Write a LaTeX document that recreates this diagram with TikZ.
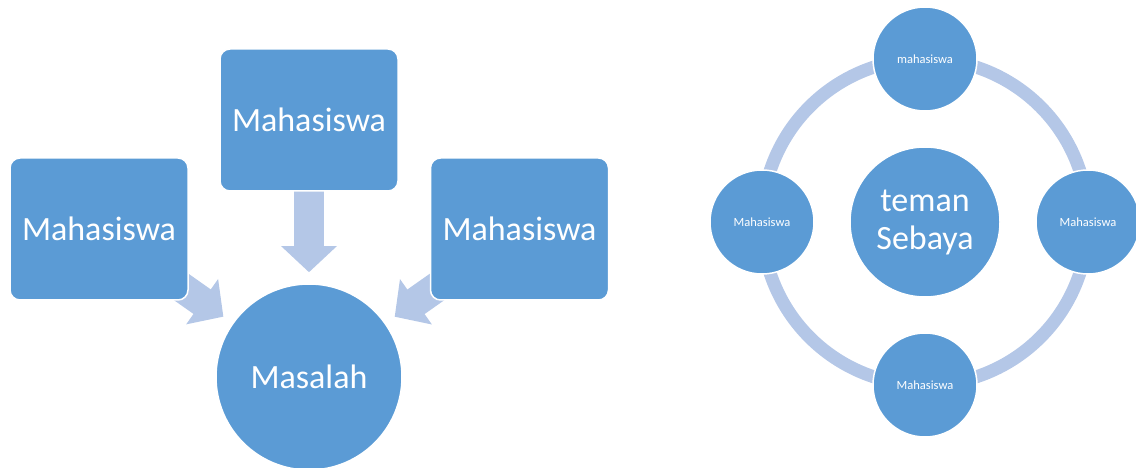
\documentclass[tikz,border=0pt]{standalone}
\usepackage{fontspec}
\setmainfont{Carlito}
\usetikzlibrary{arrows.meta}
\usetikzlibrary{backgrounds}
\definecolor{boxblue}{RGB}{91,155,213}
\definecolor{paleblue}{RGB}{180,199,231}
\tikzset{
    mbox/.style = {rectangle, rounded corners=10pt, draw=white, line width=1.5pt, fill=boxblue, text=white, minimum width=178pt, minimum height=142pt, inner sep=0pt, font=\fontsize{34}{40}\selectfont},
    mcirc/.style = {circle, draw=white, line width=1.5pt, fill=boxblue, text=white, inner sep=0pt, align=center},
    bignode/.style = {mcirc, font=\fontsize{34}{38}\selectfont},
    smallnode/.style = {mcirc, minimum size=104pt, font=\fontsize{12.5}{15}\selectfont},
    edgeb/.style = {paleblue, line width=30pt, -{Triangle[length=26pt 0 0,width=54pt 0 0]}, shorten >=11pt}, % block arrow
    ring/.style = {paleblue, line width=13pt}, % cycle
}

\begin{document}
\begin{tikzpicture}[x=1pt, y=1pt]
  \useasboundingbox (0,0) rectangle (1136,468);

  % left diagram
  \node[mbox] (lbox) at (99,239) {Mahasiswa};
  \node[mbox] (tbox) at (309,348) {Mahasiswa};
  \node[mbox] (rbox) at (519.5,239) {Mahasiswa};
  \node[bignode, minimum size=186pt] (masalah) at (309,91) {Masalah};

  % right diagram
  \node[bignode, minimum size=150pt] (teman) at (925,246) {teman\\Sebaya};
  \node[smallnode] (ntop) at (925,409) {mahasiswa};
  \node[smallnode] (nright) at (1088,246) {Mahasiswa};
  \node[smallnode] (nbottom) at (925,83) {Mahasiswa};
  \node[smallnode] (nleft) at (762,246) {Mahasiswa};

  \begin{scope}[on background layer]
    \draw[edgeb] (lbox.center) -- (masalah);
    \draw[edgeb] (tbox.center) -- (masalah);
    \draw[edgeb] (rbox.center) -- (masalah);

    \draw[ring] (ntop.center) to[out=0,in=90] (nright.center)
      to[out=-90,in=0] (nbottom.center)
      to[out=180,in=-90] (nleft.center)
      to[out=90,in=180] (ntop.center);
  \end{scope}
\end{tikzpicture}
\end{document}
